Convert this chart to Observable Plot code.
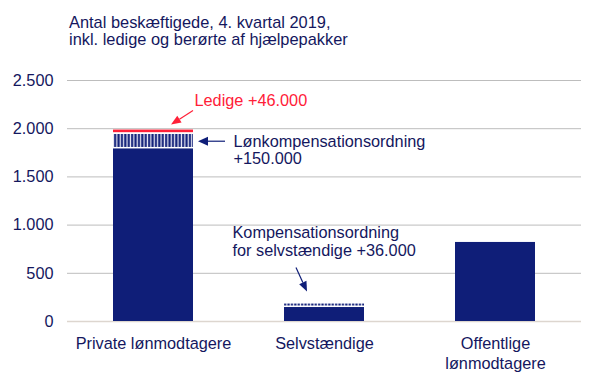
<!DOCTYPE html>
<html><head><meta charset="utf-8">
<script src="https://cdn.jsdelivr.net/npm/d3@7"></script>
<script src="https://cdn.jsdelivr.net/npm/@observablehq/plot@0.6"></script>
<style>
body{margin:0;background:#fff;}
#wrap{position:relative;width:601px;height:379px;font-family:"Liberation Sans",Arial,sans-serif;}
#title{position:absolute;left:69px;top:14px;font-size:16.4px;line-height:17px;color:#14175e;z-index:2;}
#wrap svg{position:absolute;left:0;top:0;}
</style></head><body>
<div id="wrap"><div id="title">Antal beskæftigede, 4. kvartal 2019,<br>inkl. ledige og berørte af hjælpepakker</div></div>
<script>
// ---- data ----
const categories = ["Private lønmodtagere", "Selvstændige", "Offentlige lønmodtagere"];
const categoryLabels = ["Private lønmodtagere", "Selvstændige", "Offentlige\nlønmodtagere"];
const beskaeftigede = [1790, 145, 820];     // tusinde personer
const hjaelpepakker = [150, 36, 0];         // berørt af lønkompensation / kompensation
const ledige = [46, 0, 0];
const yTicks = [0, 500, 1000, 1500, 2000, 2500];
const annotationLedige = "Ledige +46.000";
const annotationLoen = "Lønkompensationsordning\n+150.000";
const annotationSelv = "Kompensationsordning\nfor selvstændige +36.000";

// ---- styles ----
const navy = "#0f1e78";
const textNavy = "#14175e";
const red = "#ff2038";
const fs = 16.3;
const fmt = d3.formatLocale({decimal: ",", thousands: ".", grouping: [3], currency: ["", ""]}).format(",");

const baseSegs = categories.map((c, i) => ({cat: c, y1: 0, y2: beskaeftigede[i]}));
const pakkeSegs = categories.map((c, i) => ({cat: c, y1: beskaeftigede[i], y2: beskaeftigede[i] + hjaelpepakker[i]})).filter(d => d.y2 > d.y1);
const ledigeSegs = categories.map((c, i) => ({cat: c, y1: beskaeftigede[i] + hjaelpepakker[i], y2: beskaeftigede[i] + hjaelpepakker[i] + ledige[i]})).filter(d => d.y2 > d.y1);

function defsAndArrows(index, scales) {
  const x = scales.x, y = scales.y;
  const bw = typeof x.bandwidth === "function" ? x.bandwidth() : x.bandwidth;
  const g = d3.create("svg:g");
  const defs = g.append("defs");
  const pat = defs.append("pattern").attr("id", "stripes").attr("patternUnits", "userSpaceOnUse")
    .attr("width", 3.4).attr("height", 10);
  pat.append("rect").attr("width", 3.4).attr("height", 10).attr("fill", navy);
  pat.append("rect").attr("x", 0.6).attr("width", 1.3).attr("height", 10).attr("fill", "#e8e8f4");

  function arrow(x1, y1, x2, y2, color, len, w) {
    const a = Math.atan2(y2 - y1, x2 - x1);
    const bx = x2 - len * Math.cos(a), by = y2 - len * Math.sin(a);
    g.append("line").attr("x1", x1).attr("y1", y1).attr("x2", bx).attr("y2", by)
      .attr("stroke", color).attr("stroke-width", 1.2);
    const px = -Math.sin(a) * w / 2, py = Math.cos(a) * w / 2;
    g.append("polygon").attr("points", `${x2},${y2} ${bx + px},${by + py} ${bx - px},${by - py}`).attr("fill", color);
  }
  // Ledige arrow (private)
  const r0 = x(categories[0]) + bw;
  const top0 = y(beskaeftigede[0] + hjaelpepakker[0] + ledige[0]);
  arrow(r0, top0 - 19, r0 - 22, top0 - 5, red, 10, 8);
  // Lønkompensation arrow
  const mid0 = y(beskaeftigede[0] + hjaelpepakker[0] / 2);
  arrow(r0 + 32, mid0, r0 + 5, mid0, navy, 10, 9);
  // Kompensation for selvstændige
  const l1 = x(categories[1]);
  const top1 = y(beskaeftigede[1] + hjaelpepakker[1]);
  arrow(l1 + 12, top1 - 36, l1 + 23, top1 - 12, navy, 10, 8);
  return g.node();
}

const plot = Plot.plot({
  width: 601,
  height: 379,
  marginTop: 80,
  marginBottom: 58,
  marginLeft: 67,
  marginRight: 20,
  style: {fontFamily: "'Liberation Sans', Arial, sans-serif", fontSize: fs + "px", color: textNavy, background: "transparent", overflow: "visible"},
  x: {domain: categories, paddingInner: 0.535, paddingOuter: 0.267, axis: null},
  y: {domain: [0, 2500], ticks: yTicks, tickFormat: fmt, tickSize: 0, tickPadding: 14, label: null},
  marks: [
    Plot.ruleY(yTicks.filter(d => d > 0), {stroke: "#bdbdbd", strokeWidth: 1}),
    Plot.ruleY([0], {stroke: "#ddd6cf", strokeWidth: 1.5}),
    Plot.barY(baseSegs, {x: "cat", y1: "y1", y2: "y2", fill: navy}),
    Plot.barY(pakkeSegs, {x: "cat", y1: "y1", y2: "y2", fill: "url(#stripes)", insetBottom: 1.5}),
    Plot.barY(ledigeSegs, {x: "cat", y1: "y1", y2: "y2", fill: red, insetBottom: 1.8}),
    defsAndArrows,
    Plot.text(categories, {x: d => d, y: () => 0, text: (d, i) => categoryLabels[i], lineAnchor: "top", dy: 14, lineHeight: 1.2, fill: textNavy, fontSize: fs}),
    Plot.text([annotationLedige], {x: () => categories[0], y: () => beskaeftigede[0] + hjaelpepakker[0] + ledige[0], text: d => d, textAnchor: "start", lineAnchor: "bottom", dx: 41, dy: -24.5, fill: red, fontSize: fs}),
    Plot.text([annotationLoen], {x: () => categories[0], y: () => beskaeftigede[0] + hjaelpepakker[0] / 2, text: d => d, textAnchor: "start", lineAnchor: "bottom", dx: 80, dy: 22, lineHeight: 1.0, fill: textNavy, fontSize: fs}),
    Plot.text([annotationSelv], {x: () => categories[1], y: () => beskaeftigede[1] + hjaelpepakker[1], text: d => d, textAnchor: "start", lineAnchor: "bottom", dx: -92, dy: -48.5, lineHeight: 1.1, fill: textNavy, fontSize: fs})
  ]
});
document.getElementById("wrap").appendChild(plot);
</script>
</body></html>
